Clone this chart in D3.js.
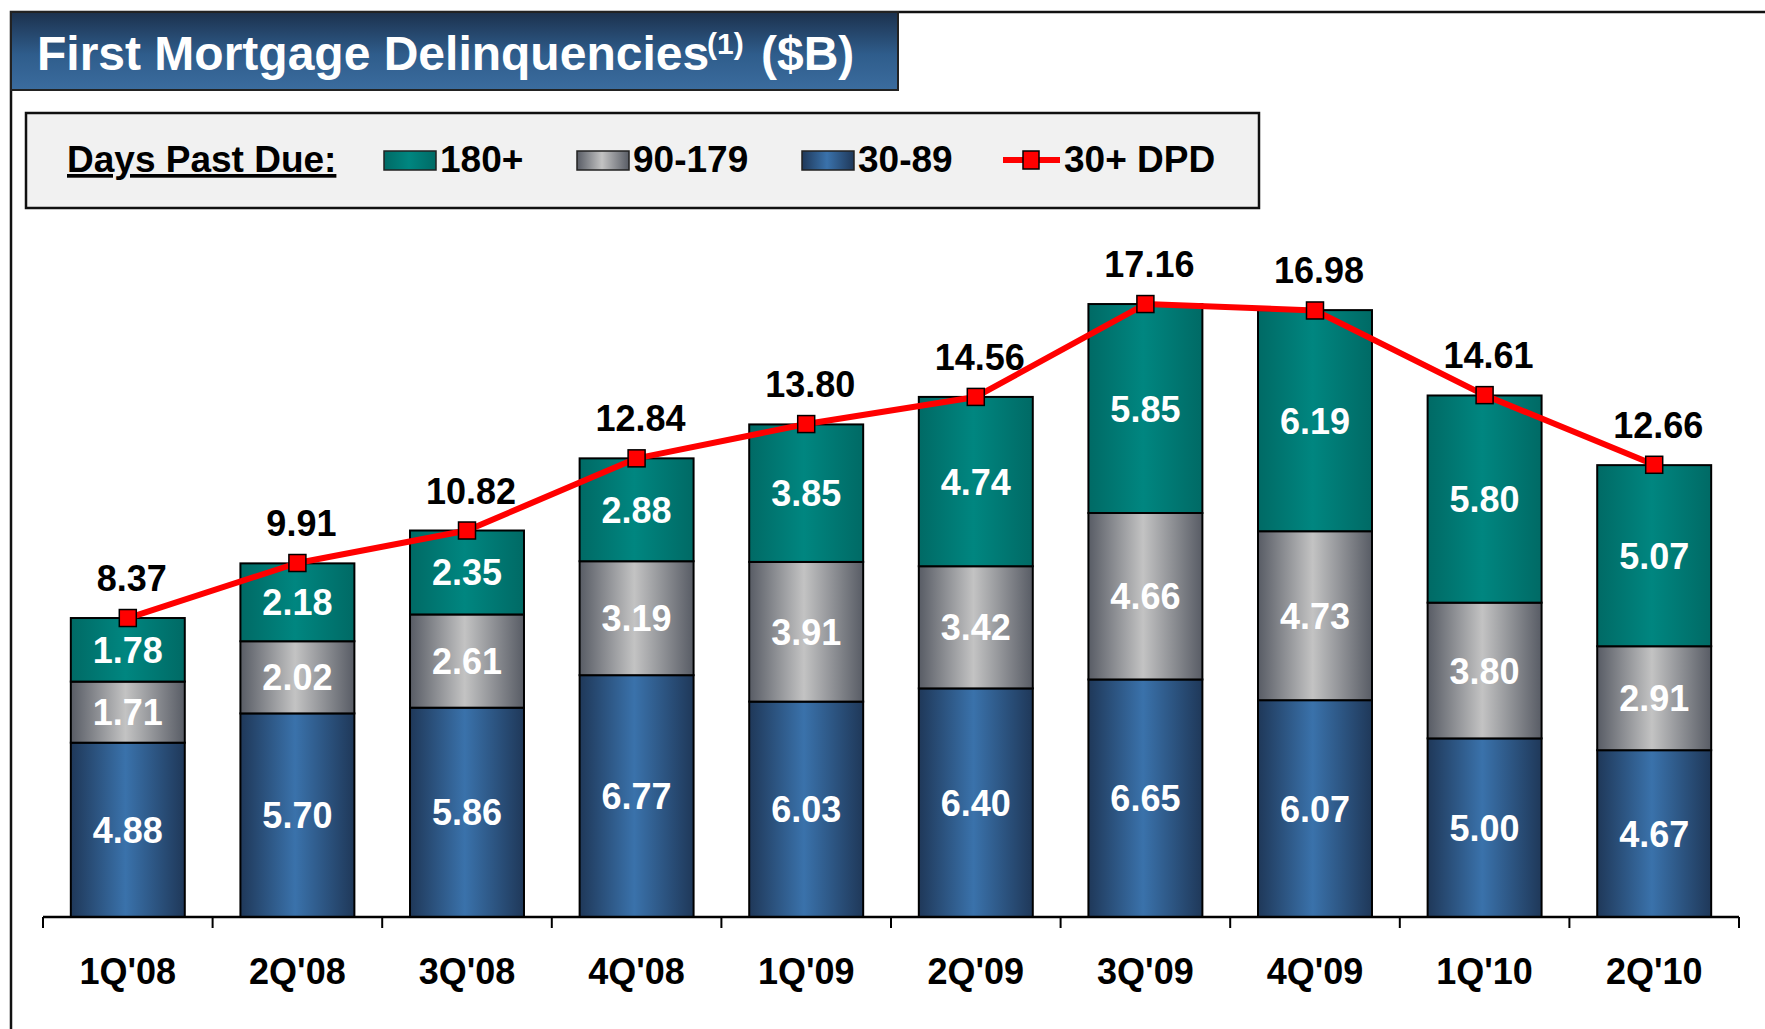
<!DOCTYPE html>
<html>

<head>
    <meta charset='utf-8'>
    <title>First Mortgage Delinquencies</title>
    <script src='https://d3js.org/d3.v7.min.js'></script>
    <style>
        body { margin: 0; background: #fff; }
        text { font-family: 'Liberation Sans', Arial, sans-serif; font-weight: bold; }
    </style>
</head>

<body>
    <script>
        // chart values, in $B
        const quarters = ["1Q'08", "2Q'08", "3Q'08", "4Q'08", "1Q'09", "2Q'09", "3Q'09", "4Q'09", "1Q'10", "2Q'10"];
        const dpd30to89 = [4.88, 5.70, 5.86, 6.77, 6.03, 6.40, 6.65, 6.07, 5.00, 4.67];
        const dpd90to179 = [1.71, 2.02, 2.61, 3.19, 3.91, 3.42, 4.66, 4.73, 3.80, 2.91];
        const dpd180plus = [1.78, 2.18, 2.35, 2.88, 3.85, 4.74, 5.85, 6.19, 5.80, 5.07];
        const dpd30plus = [8.37, 9.91, 10.82, 12.84, 13.80, 14.56, 17.16, 16.98, 14.61, 12.66];
        const seriesNames = ['180+', '90-179', '30-89'];

        const W = 1765, H = 1029;

        const svg = d3.select('body')
            .append('svg')
            .attr('width', W)
            .attr('height', H);

        const defs = svg.append('defs');

        // horizontal shading used on the bars
        function barGradient(id, edge, mid) {
            const g = defs.append('linearGradient')
                .attr('id', id)
                .attr('x1', '0%').attr('x2', '100%')
                .attr('y1', '0%').attr('y2', '0%');
            g.append('stop').attr('offset', '0%').attr('stop-color', edge);
            g.append('stop').attr('offset', '48%').attr('stop-color', mid);
            g.append('stop').attr('offset', '100%').attr('stop-color', edge);
        }
        barGradient('gBlue', '#1f3859', '#3a72ab');
        barGradient('gGray', '#585c65', '#c3c3c3');
        barGradient('gTeal', '#006a65', '#008680');

        const titleGrad = defs.append('linearGradient')
            .attr('id', 'gTitle')
            .attr('x1', '0%').attr('x2', '0%')
            .attr('y1', '0%').attr('y2', '100%');
        titleGrad.append('stop').attr('offset', '0%').attr('stop-color', '#1c314d');
        titleGrad.append('stop').attr('offset', '55%').attr('stop-color', '#2f5d8c');
        titleGrad.append('stop').attr('offset', '100%').attr('stop-color', '#3b6c9e');

        // outer frame
        svg.append('rect')
            .attr('x', 11).attr('y', 12)
            .attr('width', W + 20).attr('height', H + 20)
            .attr('fill', 'none')
            .attr('stroke', '#111')
            .attr('stroke-width', 2.5);

        // title box
        svg.append('rect')
            .attr('x', 11).attr('y', 12)
            .attr('width', 887).attr('height', 78)
            .attr('fill', 'url(#gTitle)')
            .attr('stroke', '#222')
            .attr('stroke-width', 2);

        svg.append('text')
            .attr('x', 37).attr('y', 70)
            .attr('fill', '#fff')
            .attr('font-size', 48)
            .text('First Mortgage Delinquencies');
        svg.append('text')
            .attr('x', 707).attr('y', 54)
            .attr('fill', '#fff')
            .attr('font-size', 30)
            .text('(1)');
        svg.append('text')
            .attr('x', 761).attr('y', 70)
            .attr('fill', '#fff')
            .attr('font-size', 48)
            .text('($B)');

        // legend
        const legend = svg.append('g');
        legend.append('rect')
            .attr('x', 26).attr('y', 113)
            .attr('width', 1233).attr('height', 95)
            .attr('fill', '#f1f1f1')
            .attr('stroke', '#111')
            .attr('stroke-width', 2.5);

        legend.append('text')
            .attr('x', 67).attr('y', 172)
            .attr('font-size', 37)
            .attr('fill', '#000')
            .attr('text-decoration', 'underline')
            .text('Days Past Due:');

        const swatchFills = ['url(#gTeal)', 'url(#gGray)', 'url(#gBlue)'];
        const swatchX = [384, 577, 802];
        seriesNames.forEach((name, i) => {
            legend.append('rect')
                .attr('x', swatchX[i]).attr('y', 151)
                .attr('width', 52).attr('height', 19)
                .attr('fill', swatchFills[i])
                .attr('stroke', '#222')
                .attr('stroke-width', 1.5);
            legend.append('text')
                .attr('x', swatchX[i] + 56).attr('y', 172)
                .attr('font-size', 37)
                .attr('fill', '#000')
                .text(name);
        });

        legend.append('line')
            .attr('x1', 1003).attr('x2', 1060)
            .attr('y1', 160).attr('y2', 160)
            .attr('stroke', '#ff0000')
            .attr('stroke-width', 6);
        legend.append('rect')
            .attr('x', 1023).attr('y', 151)
            .attr('width', 16).attr('height', 18)
            .attr('fill', '#ff0000')
            .attr('stroke', '#000')
            .attr('stroke-width', 1.5);
        legend.append('text')
            .attr('x', 1064).attr('y', 172)
            .attr('font-size', 37)
            .attr('fill', '#000')
            .text('30+ DPD');

        // scales
        const pad = 0.328;
        const x = d3.scaleBand()
            .domain(quarters)
            .range([43, 1739])
            .paddingInner(pad)
            .paddingOuter(pad / 2);

        const y = d3.scaleLinear()
            .domain([0, 20])
            .range([917, 917 - 20 * 35.72]);

        // stack the three buckets, 30-89 at the bottom
        const rows = quarters.map((q, i) => ({
            quarter: q,
            a: dpd30to89[i],
            b: dpd90to179[i],
            c: dpd180plus[i]
        }));
        const stack = d3.stack().keys(['a', 'b', 'c'])(rows);
        const fills = { a: 'url(#gBlue)', b: 'url(#gGray)', c: 'url(#gTeal)' };

        const layers = svg.selectAll('.layer')
            .data(stack)
            .enter()
            .append('g')
            .attr('class', 'layer');

        layers.selectAll('rect')
            .data(d => d.map(p => ({ key: d.key, p: p })))
            .enter()
            .append('rect')
            .attr('x', d => x(d.p.data.quarter))
            .attr('y', d => y(d.p[1]))
            .attr('width', x.bandwidth())
            .attr('height', d => y(d.p[0]) - y(d.p[1]))
            .attr('fill', d => fills[d.key])
            .attr('stroke', '#000')
            .attr('stroke-width', 2);

        layers.selectAll('.seg-label')
            .data(d => d.map(p => ({ key: d.key, p: p })))
            .enter()
            .append('text')
            .attr('class', 'seg-label')
            .attr('x', d => x(d.p.data.quarter) + x.bandwidth() / 2)
            .attr('y', d => (y(d.p[0]) + y(d.p[1])) / 2 + 13)
            .attr('text-anchor', 'middle')
            .attr('font-size', 36)
            .attr('fill', '#fff')
            .text(d => d.p.data[d.key].toFixed(2));

        // x axis: baseline with ticks between the quarters
        const step = x.step();
        svg.append('line')
            .attr('x1', 43).attr('x2', 1739)
            .attr('y1', 917).attr('y2', 917)
            .attr('stroke', '#000')
            .attr('stroke-width', 2.5);

        const bounds = quarters.map(q => x(q) - step * pad / 2)
            .concat([x(quarters[quarters.length - 1]) + x.bandwidth() + step * pad / 2]);
        svg.selectAll('.tick-mark')
            .data(bounds)
            .enter()
            .append('line')
            .attr('class', 'tick-mark')
            .attr('x1', d => d).attr('x2', d => d)
            .attr('y1', 917).attr('y2', 928)
            .attr('stroke', '#000')
            .attr('stroke-width', 2);

        svg.selectAll('.cat-label')
            .data(quarters)
            .enter()
            .append('text')
            .attr('class', 'cat-label')
            .attr('x', d => x(d) + x.bandwidth() / 2)
            .attr('y', 984)
            .attr('text-anchor', 'middle')
            .attr('font-size', 36)
            .attr('fill', '#000')
            .text(d => d);

        // 30+ DPD total line
        const cx = q => x(q) + x.bandwidth() / 2;
        const line = d3.line()
            .x((d, i) => cx(quarters[i]))
            .y(d => y(d));

        svg.append('path')
            .datum(dpd30plus)
            .attr('d', line)
            .attr('fill', 'none')
            .attr('stroke', '#ff0000')
            .attr('stroke-width', 6)
            .attr('stroke-linejoin', 'round');

        svg.selectAll('.marker')
            .data(dpd30plus)
            .enter()
            .append('rect')
            .attr('class', 'marker')
            .attr('x', (d, i) => cx(quarters[i]) - 8.5)
            .attr('y', d => y(d) - 8.5)
            .attr('width', 17).attr('height', 17)
            .attr('fill', '#ff0000')
            .attr('stroke', '#000')
            .attr('stroke-width', 1.5);

        svg.selectAll('.total-label')
            .data(dpd30plus)
            .enter()
            .append('text')
            .attr('class', 'total-label')
            .attr('x', (d, i) => cx(quarters[i]) + 4)
            .attr('y', d => y(d) - 27)
            .attr('text-anchor', 'middle')
            .attr('font-size', 36)
            .attr('fill', '#000')
            .text(d => d.toFixed(2));
    </script>
</body>

</html>
